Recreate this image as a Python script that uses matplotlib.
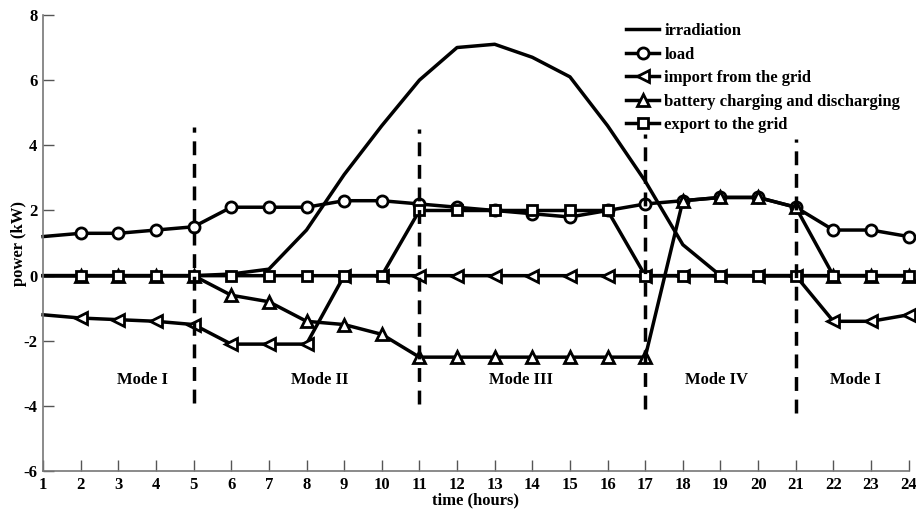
import numpy as np
import matplotlib
matplotlib.use('Agg')
import matplotlib.pyplot as plt

plt.rcParams['font.family'] = ['Liberation Serif', 'DejaVu Serif']
plt.rcParams['font.weight'] = 'bold'
plt.rcParams['axes.unicode_minus'] = False

hours = list(range(1, 25))
irradiation = [0, 0, 0, 0, 0, 0.05, 0.2, 1.4, 3.1, 4.6, 6.0, 7.0, 7.1, 6.7, 6.1, 4.6, 2.9, 0.95, 0, 0, 0, 0, 0, 0]
load = [1.2, 1.3, 1.3, 1.4, 1.5, 2.1, 2.1, 2.1, 2.3, 2.3, 2.2, 2.1, 2.0, 1.9, 1.8, 2.0, 2.2, 2.3, 2.4, 2.4, 2.1, 1.4, 1.4, 1.2]
grid_import = [-1.2, -1.3, -1.35, -1.4, -1.5, -2.1, -2.1, -2.1, 0, 0, 0, 0, 0, 0, 0, 0, 0, 0, 0, 0, 0, -1.4, -1.4, -1.2]
battery = [0, 0, 0, 0, 0, -0.6, -0.8, -1.4, -1.5, -1.8, -2.5, -2.5, -2.5, -2.5, -2.5, -2.5, -2.5, 2.3, 2.4, 2.4, 2.1, 0, 0, 0]
grid_export = [0, 0, 0, 0, 0, 0, 0, 0, 0, 0, 2.0, 2.0, 2.0, 2.0, 2.0, 2.0, 0, 0, 0, 0, 0, 0, 0, 0]

mode_bounds = [5, 11, 17, 21]
mode_spans = [(-3.9, 4.55), (-3.95, 4.5), (-4.1, 4.35), (-4.2, 4.2)]
mode_names = ['Mode I', 'Mode II', 'Mode III', 'Mode IV', 'Mode I']
mode_x = [3.65, 8.35, 13.7, 18.9, 22.6]

fig = plt.figure(figsize=(9.16, 5.15), dpi=100)
ax = fig.add_axes([0.047, 0.085, 0.945, 0.886])

lw = 2.5
mk = dict(markersize=8, markerfacecolor='white', markeredgecolor='black', markeredgewidth=2)
every = list(range(1, 24))

ax.plot(hours, irradiation, color='black', lw=lw, label='irradiation')
ax.plot(hours, load, color='black', lw=lw, marker='o', markevery=every, label='load', clip_on=False, **mk)
ax.plot(hours, grid_import, color='black', lw=lw, marker='<', markevery=every, label='import from the grid', clip_on=False, **mk)
ax.plot(hours, battery, color='black', lw=lw, marker='^', markevery=every, label='battery charging and discharging', clip_on=False, **mk)
ax.plot(hours, grid_export, color='black', lw=lw, marker='s', markevery=every, label='export to the grid', clip_on=False,
        markersize=7, markerfacecolor='white', markeredgecolor='black', markeredgewidth=2)

for xb, (y0, y1) in zip(mode_bounds, mode_spans):
    ax.plot([xb, xb], [y0, y1], color='black', lw=2.5, ls=(0, (4, 2.5)))

for name, xm in zip(mode_names, mode_x):
    ax.text(xm, -3.2, name, ha='center', va='center', fontsize=12, fontweight='bold')

ax.set_xlim(1, 24)
ax.set_ylim(-6, 8)
ax.set_xticks(hours)
ax.set_yticks(range(-6, 9, 2))
ax.tick_params(direction='in', length=8, width=1, labelsize=12, color='#555555', pad=4)
for lab in ax.get_xticklabels() + ax.get_yticklabels():
    lab.set_fontweight('bold')
for side in ['top', 'right']:
    ax.spines[side].set_visible(False)
for side in ['left', 'bottom']:
    ax.spines[side].set_color('#777777')
    ax.spines[side].set_linewidth(1.2)

ax.set_xlabel('time (hours)', fontsize=12, fontweight='bold', labelpad=0)
ax.set_ylabel('power (kW)', fontsize=12, fontweight='bold')
ax.yaxis.set_label_coords(-0.019, 0.5)

leg = ax.legend(loc='upper right', bbox_to_anchor=(1.0, 1.0), frameon=False, fontsize=12,
                handlelength=2.0, handletextpad=0.3, labelspacing=0.45, borderaxespad=0.1)
for t in leg.get_texts():
    t.set_fontweight('bold')

fig.savefig('out.png', dpi=100)
